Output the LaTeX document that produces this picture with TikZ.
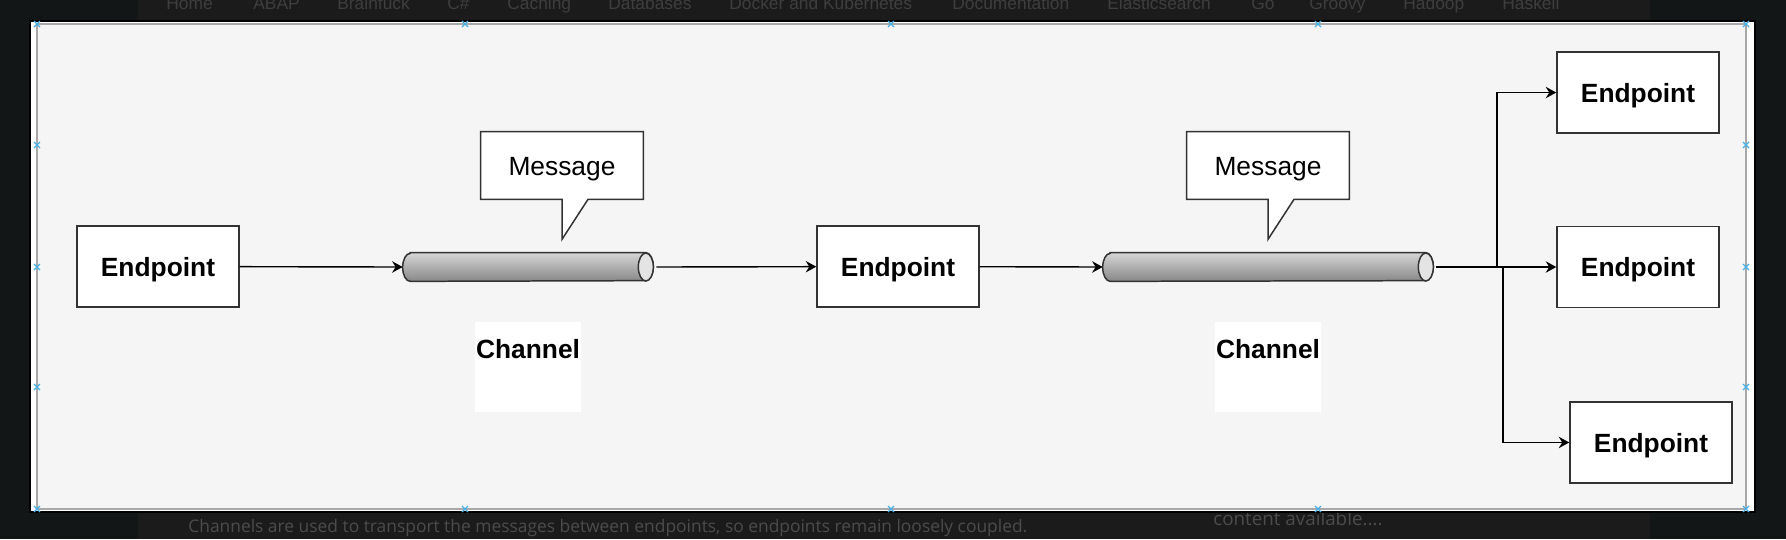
\documentclass[tikz,border=0pt]{standalone}
\usepackage{fontspec}
\setmainfont{Liberation Sans}
\newfontfamily\captionfont{Open Sans}
\usetikzlibrary{arrows.meta}
\usetikzlibrary{positioning}

\definecolor{pagedark}{HTML}{131617}
\definecolor{pageband}{HTML}{1B1B1B}
\definecolor{navgray}{HTML}{3E3E3E}
\definecolor{captiongray}{HTML}{4C4C4C}
\definecolor{canvasgray}{HTML}{F5F5F5}
\definecolor{framegray}{HTML}{A8A8A8}
\definecolor{handleblue}{HTML}{45B0E6}
\definecolor{boxline}{HTML}{333333}
\definecolor{pipetop}{HTML}{D6D6D6}
\definecolor{pipebottom}{HTML}{878787}
\definecolor{pipeface}{HTML}{E4E4E4}

\begin{document}
\begin{tikzpicture}[x=0.02cm, y=-0.02cm,
  endpoint/.style={draw=boxline, fill=white, line width=0.85pt, inner sep=0pt, text depth=0pt,
    minimum width=3.24cm, minimum height=1.62cm, font=\fontsize{15}{18}\selectfont\bfseries},
  bubble/.style={inner sep=0pt, minimum width=3.24cm, minimum height=1.34cm, text depth=0pt,
    font=\fontsize{15}{18}\selectfont},
  pipe/.style={inner sep=0pt, minimum height=0.56cm},
  labelbox/.style={fill=white, inner sep=0pt, minimum width=2.12cm, minimum height=1.8cm},
  flow/.style={line width=0.8pt, -{Stealth[length=6pt,width=6.5pt,inset=2pt]}},
  navtext/.style={anchor=base west, text=navgray, inner sep=0pt, font=\fontsize{9.9}{12}\selectfont},
  handle/.style={draw=handleblue, line width=0.7pt}]
\useasboundingbox (0,0) rectangle (1786,539);
\clip (0,0) rectangle (1786,539);

% page behind the diagram
\fill[pagedark] (0,0) rectangle (1786,539);
\fill[pageband] (138,0) rectangle (1650,539);
\foreach \x/\t in {166/Home, 253/ABAP, 337/Brainfuck, 447/C\#, 507/Caching, 608/Databases,
    729/Docker and Kubernetes, 952/Documentation, 1107/Elasticsearch, 1251/Go,
    1309/Groovy, 1403/Hadoop, 1502/Haskell}
  \node[navtext] at (\x,9) {\t};
\node[anchor=west, text=captiongray, inner sep=0pt, font=\captionfont\fontsize{9.9}{11}\selectfont]
  (caption) at (188,528) {Channels are used to transport the messages between endpoints, so endpoints remain loosely coupled.};
\node[anchor=west, text=captiongray, inner sep=0pt, font=\captionfont\fontsize{10.7}{13}\selectfont]
  (more) at (1213,518) {content available....};

% drawing canvas
\draw[black, fill=white, line width=1pt] (30,21) rectangle (1755,512);
\draw[framegray, fill=canvasgray, line width=1.2pt] (37,24) rectangle (1746,509);
\foreach \x in {37,465,891,1318,1746}
  \foreach \y in {24,509}
    \draw[handle] (\x,\y) +(-3,-3) -- +(3,3) +(-3,3) -- +(3,-3);
\foreach \x in {37,1746}
  \foreach \y in {145,267,387}
    \draw[handle] (\x,\y) +(-3,-3) -- +(3,3) +(-3,3) -- +(3,-3);

% endpoints
\node[endpoint] (ep1) at (158,266.5) {Endpoint};
\node[endpoint] (ep2) at (898,266.5) {Endpoint};
\node[endpoint] (ep4) at (1638,267) {Endpoint};
\node[endpoint, above=1.84cm of ep4] (ep3) {Endpoint};
\node[endpoint, below=1.86cm of ep4, xshift=0.26cm] (ep5) {Endpoint};

% channels
\node[pipe, minimum width=5cm] (ch1) at (528,267) {};
\node[pipe, minimum width=6.6cm] (ch2) at (1268,267) {};
\foreach \c in {ch1,ch2} {
  \draw[boxline, line width=0.85pt, top color=pipetop, bottom color=pipebottom]
    ([xshift=0.15cm]\c.north west) -- ([xshift=-0.15cm]\c.north east)
    arc[start angle=90, end angle=-90, x radius=0.15cm, y radius=0.28cm]
    -- ([xshift=0.15cm]\c.south west)
    arc[start angle=270, end angle=90, x radius=0.15cm, y radius=0.28cm] -- cycle;
  \draw[boxline, line width=0.85pt, fill=pipeface] ([xshift=-0.15cm]\c.east)
    ellipse[x radius=0.15cm, y radius=0.28cm];
}

% messages
\node[bubble] (msg1) at (562,165.5) {};
\node[bubble] (msg2) at (1268,165.5) {};
\foreach \m in {msg1,msg2} {
  \draw[boxline, fill=white, line width=0.85pt] (\m.south east) -- ([xshift=0.52cm]\m.south)
    -- ([yshift=-0.8cm]\m.south) -- (\m.south) -- (\m.south west) -- (\m.north west)
    -- (\m.north east) -- cycle;
  \node[bubble, yshift=-0.02cm] at (\m) {Message};
}

% channel labels
\node[labelbox] (lbl1) at (528,367) {};
\node[labelbox] (lbl2) at (1268,367) {};
\node[text depth=0pt, font=\fontsize{15}{18}\selectfont\bfseries] at ([yshift=0.36cm]lbl1) {Channel};
\node[text depth=0pt, font=\fontsize{15}{18}\selectfont\bfseries] at ([yshift=0.36cm]lbl2) {Channel};

% connectors
\coordinate (fanA) at (1497,267);
\coordinate (fanB) at (1503,267);
\draw[flow] (ep1) -- (ch1.west);
\draw[flow, shorten <=1.7pt] (ch1.east) -- (ep2);
\draw[flow] (ep2) -- (ch2.west);
\draw[flow, shorten <=1.7pt] (ch2.east) -- (ep4);
\draw[flow] (fanA) |- (ep3);
\draw[flow] (fanB) |- (ep5);
\end{tikzpicture}
\end{document}
